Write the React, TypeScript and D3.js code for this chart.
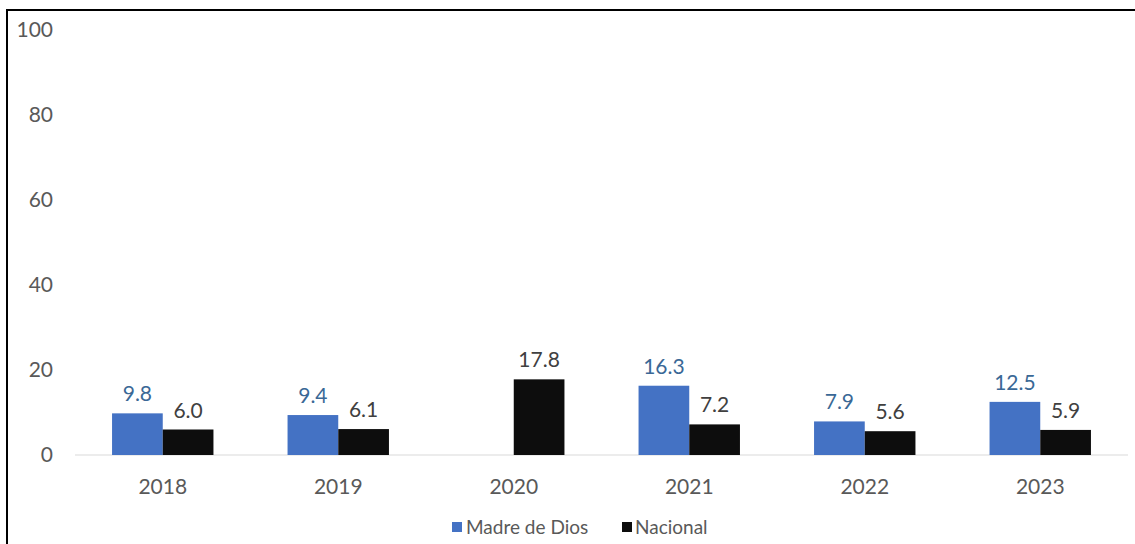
import React from "react";
import * as d3 from "d3";

const categories = ["2018", "2019", "2020", "2021", "2022", "2023"];
const madreDeDios: (number | null)[] = [9.8, 9.4, null, 16.3, 7.9, 12.5];
const nacional: number[] = [6.0, 6.1, 17.8, 7.2, 5.6, 5.9];
const yTicks = [0, 20, 40, 60, 80, 100];
const seriesNames = ["Madre de Dios", "Nacional"];

const W = 1135;
const H = 544;
const FONT = "Lato, 'Open Sans', sans-serif";
const BLUE = "#4472C4";
const BLACK = "#0D0D0D";
const GREY = "#595959";
const LABEL_BLUE = "#3A6896";

export default function App() {
  const x = d3.scaleBand<string>().domain(categories).range([75, 1128]).padding(0);
  const y = d3.scaleLinear().domain([0, 100]).range([455, 30]);
  const barW = 50.7;

  return (
    <svg
      width={W}
      height={H}
      style={{ position: "absolute", left: 0, top: 0, background: "#fff" }}
      fontFamily={FONT}
    >
      <rect x={0} y={0} width={W} height={H} fill="#fff" />
      <line x1={7} y1={10} x2={W} y2={10} stroke="#000" strokeWidth={2} />
      <line x1={7} y1={9} x2={7} y2={H} stroke="#000" strokeWidth={2} />

      {yTicks.map((t) => (
        <text key={t} x={53} y={y(t)} dy="0.35em" textAnchor="end" fontSize={21} fill={GREY}>
          {t}
        </text>
      ))}

      <line x1={75} x2={1128} y1={y(0)} y2={y(0)} stroke="#D9D9D9" strokeWidth={1} />

      {categories.map((c, i) => {
        const cx = x(c)! + x.bandwidth() / 2;
        const m = madreDeDios[i];
        const n = nacional[i];
        return (
          <g key={c}>
            {m !== null && (
              <>
                <rect x={cx - barW} y={y(m)} width={barW} height={y(0) - y(m)} fill={BLUE} />
                <text x={cx - barW / 2} y={y(m) - 12} textAnchor="middle" fontSize={21} fill={LABEL_BLUE}>
                  {m.toFixed(1)}
                </text>
              </>
            )}
            <rect x={cx} y={y(n)} width={barW} height={y(0) - y(n)} fill={BLACK} />
            <text x={cx + barW / 2} y={y(n) - 12} textAnchor="middle" fontSize={21} fill="#404040">
              {n.toFixed(1)}
            </text>
            <text x={cx} y={487} dy="0.35em" textAnchor="middle" fontSize={21} fill={GREY}>
              {c}
            </text>
          </g>
        );
      })}

      <rect x={452} y={522} width={10} height={10} fill={BLUE} />
      <text x={466} y={527} dy="0.35em" fontSize={19} fill={GREY}>
        {seriesNames[0]}
      </text>
      <rect x={622} y={522} width={10} height={10} fill={BLACK} />
      <text x={635} y={527} dy="0.35em" fontSize={19} fill={GREY}>
        {seriesNames[1]}
      </text>
    </svg>
  );
}
